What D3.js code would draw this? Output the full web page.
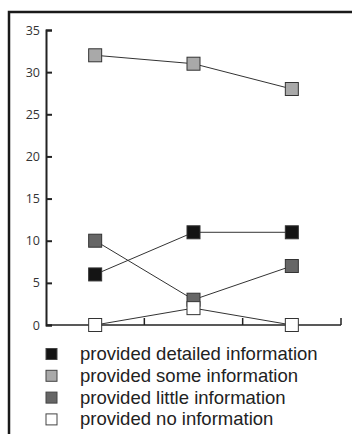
<!DOCTYPE html>
<html><head><meta charset="utf-8">
<script src="https://cdn.jsdelivr.net/npm/d3@7"></script>
<style>body{margin:0;background:#fff}svg{display:block}</style>
</head><body>
<script>
const categories = ["A", "B", "C"];
const detailed = [6, 11, 11];
const some = [32, 31, 28];
const little = [10, 3, 7];
const none = [0, 2, 0];
const yTicks = [0, 5, 10, 15, 20, 25, 30, 35];
const seriesNames = ["provided detailed information", "provided some information", "provided little information", "provided no information"];
const seriesColors = ["#141414", "#a9a9a9", "#666666", "#ffffff"];
const seriesData = [detailed, some, little, none];

const W = 352, H = 434;
const svg = d3.select("body").append("svg").attr("width", W).attr("height", H);

// frame
svg.append("path").attr("d", `M9,${H} V12 H${W}`).attr("fill", "none").attr("stroke", "#1a1a1a").attr("stroke-width", 2.5);

const x = d3.scaleBand().domain(categories).range([46, 341]);
const y = d3.scaleLinear().domain([0, 35]).range([325, 30]);

// y axis
const yAxis = svg.append("g").attr("transform", "translate(46,0)")
  .call(d3.axisRight(y).tickValues(yTicks).tickSize(6).tickFormat(d3.format("d")));
yAxis.select(".domain").attr("stroke", "#222").attr("stroke-width", 2);
yAxis.selectAll(".tick line").attr("stroke", "#222").attr("stroke-width", 2);
yAxis.selectAll(".tick text").attr("x", -6).attr("text-anchor", "end")
  .attr("font-family", "Open Sans, Noto Sans, sans-serif").attr("font-size", 12.5).attr("fill", "#333");

// x axis
const xb = svg.append("g").attr("transform", "translate(0,325)");
xb.append("line").attr("x1", 46).attr("x2", x.range()[1]).attr("stroke", "#222").attr("stroke-width", 1.5);
const bounds = categories.map(c => x(c) + x.bandwidth());
xb.selectAll("line.tk").data(bounds).enter().append("line").attr("class", "tk")
  .attr("x1", d => d).attr("x2", d => d).attr("y1", 0).attr("y2", -7)
  .attr("stroke", "#222").attr("stroke-width", 1.5);

const cx = c => x(c) + x.bandwidth() / 2;
const line = d3.line().x((d, i) => cx(categories[i])).y(d => y(d));

seriesData.forEach((s, k) => {
  svg.append("path").attr("d", line(s)).attr("fill", "none").attr("stroke", "#333").attr("stroke-width", 1);
});
seriesData.forEach((s, k) => {
  svg.selectAll(null).data(s).enter().append("rect")
    .attr("x", (d, i) => cx(categories[i]) - 6.5).attr("y", d => y(d) - 6.5)
    .attr("width", 13).attr("height", 13)
    .attr("fill", seriesColors[k]).attr("stroke", "#333").attr("stroke-width", 1);
});

// legend
const lg = svg.append("g");
seriesNames.forEach((n, k) => {
  const cy = 354 + k * 21.8;
  lg.append("rect").attr("x", 46).attr("y", cy - 5.5).attr("width", 11).attr("height", 11)
    .attr("fill", seriesColors[k]).attr("stroke", "#444").attr("stroke-width", 1);
  lg.append("text").attr("x", 80).attr("y", cy + 6).text(n)
    .attr("font-family", "Liberation Sans, Arial, sans-serif").attr("font-size", 18.5).attr("fill", "#222");
});
</script>
</body></html>
